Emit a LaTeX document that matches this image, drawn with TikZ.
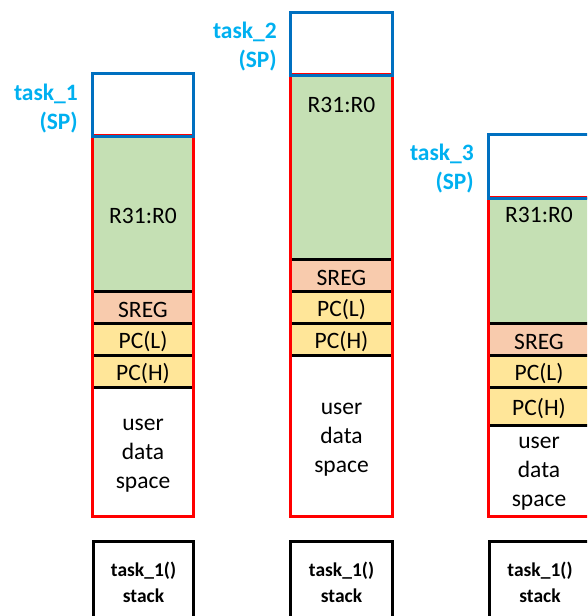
\documentclass[tikz,border=0pt]{standalone}
\usepackage{fontspec}
\setmainfont{Carlito}
\definecolor{lblcyan}{HTML}{00B0F0}
\definecolor{spblue}{HTML}{0070C0}
\definecolor{regreen}{HTML}{C5E0B4}
\definecolor{sregc}{HTML}{F8CBAD}
\definecolor{pcc}{HTML}{FFE699}
\definecolor{redc}{HTML}{FF0000}
\begin{document}
\begin{tikzpicture}[x=1pt,y=-1pt,
  cell/.style={rectangle,inner sep=0pt,minimum width=100pt,draw=none},
  txt/.style={inner sep=0pt,font=\fontsize{23.5}{29}\selectfont,align=center},
  sptext/.style={inner sep=0pt,font=\bfseries\fontsize{23.5}{28}\selectfont,text=lblcyan,anchor=east},
  sep/.style={line width=3pt,black},
  redline/.style={line width=3pt,redc},
  blueline/.style={line width=3pt,spblue},
  stackbox/.style={line width=3pt,black},
  stacktext/.style={inner sep=0pt,font=\bfseries\fontsize{19.5}{26}\selectfont,align=center}]
\useasboundingbox (0,0) rectangle (587,616);
\begin{scope}
\clip (0,0) rectangle (587,616);
% ---------- column 1 ----------
\node[cell,minimum height=62pt] (b1) at (143,105) {};
\node[cell,minimum height=156pt,fill=regreen] (g1) at (143,214) {};
\node[cell,minimum height=32pt,fill=sregc] (s1) at (143,308) {};
\node[cell,minimum height=32pt,fill=pcc] (l1) at (143,340) {};
\node[cell,minimum height=32pt,fill=pcc] (h1) at (143,372) {};
\node[cell,minimum height=128pt] (u1) at (143,452) {};
\node[txt] (r1) at (143,216) {R31:R0};
\node[txt] (st1) at (143,310) {SREG};
\node[txt] (lt1) at (143,342) {PC(L)};
\node[txt] (ht1) at (143,374) {PC(H)};
\node[txt] (ut1) at (143,456) {user\\data\\space};
\draw[sep] (s1.north west) -- (s1.north east);
\draw[sep] (l1.north west) -- (l1.north east);
\draw[sep] (h1.north west) -- (h1.north east);
\draw[sep] (u1.north west) -- (u1.north east);
\draw[redline] (g1.north west) rectangle (u1.south east);
\draw[blueline] (b1.north west) rectangle (b1.south east);
\node[sptext] (t1) at (78,94) {task\_1};
\node[sptext] (p1) at (78,123) {(SP)};
% ---------- column 2 ----------
\node[cell,minimum height=62pt,minimum width=101pt] (b2) at (341.5,44) {};
\node[cell,minimum height=185pt,minimum width=101pt,fill=regreen] (g2) at (341.5,167.5) {};
\node[cell,minimum height=32pt,minimum width=101pt,fill=sregc] (s2) at (341.5,276) {};
\node[cell,minimum height=32pt,minimum width=101pt,fill=pcc] (l2) at (341.5,308) {};
\node[cell,minimum height=32pt,minimum width=101pt,fill=pcc] (h2) at (341.5,340) {};
\node[cell,minimum height=160pt,minimum width=101pt] (u2) at (341.5,436) {};
\node[txt] (r2) at (341.5,105) {R31:R0};
\node[txt] (st2) at (341.5,278) {SREG};
\node[txt] (lt2) at (341.5,310) {PC(L)};
\node[txt] (ht2) at (341.5,342) {PC(H)};
\node[txt] (ut2) at (341.5,440) {user\\data\\space};
\draw[sep] (s2.north west) -- (s2.north east);
\draw[sep] (l2.north west) -- (l2.north east);
\draw[sep] (h2.north west) -- (h2.north east);
\draw[sep] (u2.north west) -- (u2.north east);
\draw[redline] (g2.north west) rectangle (u2.south east);
\draw[blueline] (b2.north west) rectangle (b2.south east);
\node[sptext] (t2) at (277,32) {task\_2};
\node[sptext] (p2) at (277,61) {(SP)};
% ---------- column 3 ----------
\node[cell,minimum height=63pt] (b3) at (539,166.5) {};
\node[cell,minimum height=126pt,fill=regreen] (g3) at (539,261) {};
\node[cell,minimum height=32pt,fill=sregc] (s3) at (539,340) {};
\node[cell,minimum height=32pt,fill=pcc] (l3) at (539,372) {};
\node[cell,minimum height=38pt,fill=pcc] (h3) at (539,407) {};
\node[cell,minimum height=90pt] (u3) at (539,471) {};
\node[txt] (r3) at (539,215) {R31:R0};
\node[txt] (st3) at (539,342) {SREG};
\node[txt] (lt3) at (539,374) {PC(L)};
\node[txt] (ht3) at (539,409) {PC(H)};
\node[txt] (ut3) at (539,474) {user\\data\\space};
\draw[sep] (s3.north west) -- (s3.north east);
\draw[sep] (l3.north west) -- (l3.north east);
\draw[sep] (h3.north west) -- (h3.north east);
\draw[sep] (u3.north west) -- (u3.north east);
\draw[redline] (g3.north west) rectangle (u3.south east);
\draw[blueline] (b3.north west) rectangle (b3.south east);
\node[sptext] (t3) at (474,154) {task\_3};
\node[sptext] (p3) at (474,183) {(SP)};
% ---------- stack boxes ----------
\node[cell,minimum height=100pt] (k1) at (143.5,592) {};
\node[cell,minimum height=100pt,minimum width=101pt] (k2) at (341.5,592) {};
\node[cell,minimum height=100pt] (k3) at (540,592) {};
\draw[stackbox] (k1.south west) -- (k1.north west) -- (k1.north east) -- (k1.south east);
\draw[stackbox] (k2.south west) -- (k2.north west) -- (k2.north east) -- (k2.south east);
\draw[stackbox] (k3.south west) -- (k3.north west) -- (k3.north east) -- (k3.south east);
\node[stacktext] (kt1) at (143.5,582) {task\_1()\\stack};
\node[stacktext] (kt2) at (341.5,582) {task\_1()\\stack};
\node[stacktext] (kt3) at (540,582) {task\_1()\\stack};
\end{scope}
\end{tikzpicture}
\end{document}
